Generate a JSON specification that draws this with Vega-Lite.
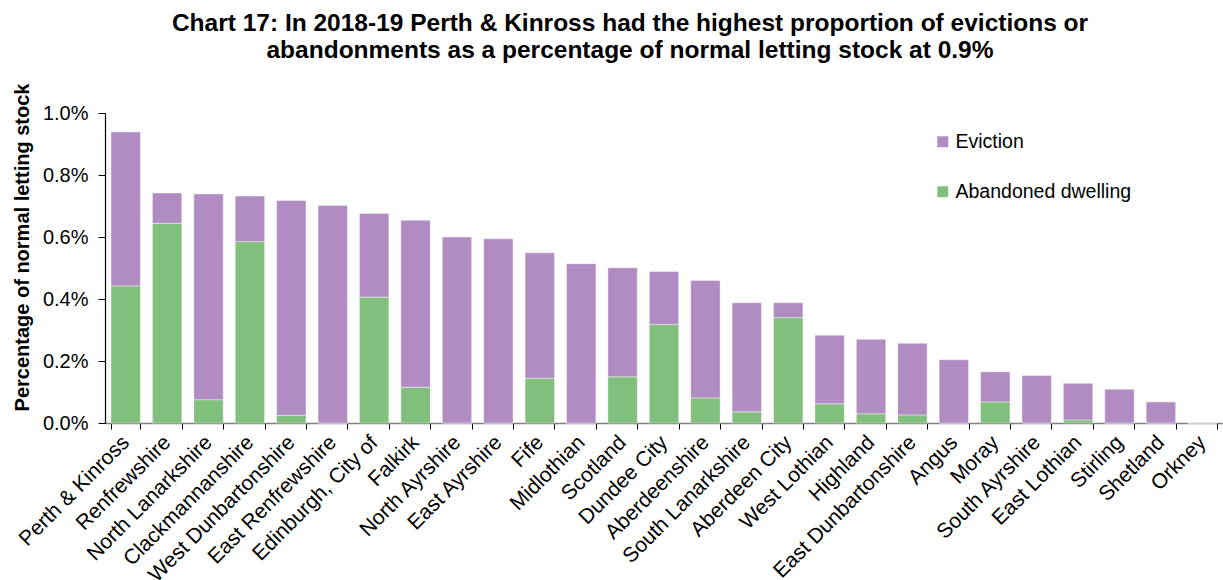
{
  "$schema": "https://vega.github.io/schema/vega-lite/v6.json",
  "autosize": {"type": "none"},
  "width": 1118,
  "height": 310,
  "padding": {"left": 105, "top": 113, "right": 0, "bottom": 157},
  "background": "white",
  "config": {
    "font": "Liberation Sans",
    "view": {"stroke": null}
  },
  "title": {
    "text": ["Chart 17: In 2018-19 Perth & Kinross had the highest proportion of evictions or", "abandonments as a percentage of normal letting stock at 0.9%"],
    "anchor": "middle",
    "frame": "group",
    "dx": -34,
    "font": "Liberation Sans",
    "fontSize": 24.5,
    "fontWeight": "bold",
    "color": "#000000",
    "lineHeight": 27,
    "offset": 20
  },
  "data": {
    "values": [
      {"area": "Perth & Kinross", "type": "Abandoned dwelling", "value": 0.00442},
      {"area": "Perth & Kinross", "type": "Eviction", "value": 0.00497},
      {"area": "Renfrewshire", "type": "Abandoned dwelling", "value": 0.00644},
      {"area": "Renfrewshire", "type": "Eviction", "value": 0.00098},
      {"area": "North Lanarkshire", "type": "Abandoned dwelling", "value": 0.00075},
      {"area": "North Lanarkshire", "type": "Eviction", "value": 0.00664},
      {"area": "Clackmannanshire", "type": "Abandoned dwelling", "value": 0.00585},
      {"area": "Clackmannanshire", "type": "Eviction", "value": 0.00147},
      {"area": "West Dunbartonshire", "type": "Abandoned dwelling", "value": 0.00025},
      {"area": "West Dunbartonshire", "type": "Eviction", "value": 0.00693},
      {"area": "East Renfrewshire", "type": "Abandoned dwelling", "value": 0.0},
      {"area": "East Renfrewshire", "type": "Eviction", "value": 0.00702},
      {"area": "Edinburgh, City of", "type": "Abandoned dwelling", "value": 0.00406},
      {"area": "Edinburgh, City of", "type": "Eviction", "value": 0.0027},
      {"area": "Falkirk", "type": "Abandoned dwelling", "value": 0.00115},
      {"area": "Falkirk", "type": "Eviction", "value": 0.00539},
      {"area": "North Ayrshire", "type": "Abandoned dwelling", "value": 0.0},
      {"area": "North Ayrshire", "type": "Eviction", "value": 0.006},
      {"area": "East Ayrshire", "type": "Abandoned dwelling", "value": 0.0},
      {"area": "East Ayrshire", "type": "Eviction", "value": 0.00594},
      {"area": "Fife", "type": "Abandoned dwelling", "value": 0.00144},
      {"area": "Fife", "type": "Eviction", "value": 0.00405},
      {"area": "Midlothian", "type": "Abandoned dwelling", "value": 0.0},
      {"area": "Midlothian", "type": "Eviction", "value": 0.00514},
      {"area": "Scotland", "type": "Abandoned dwelling", "value": 0.00149},
      {"area": "Scotland", "type": "Eviction", "value": 0.00352},
      {"area": "Dundee City", "type": "Abandoned dwelling", "value": 0.00318},
      {"area": "Dundee City", "type": "Eviction", "value": 0.00171},
      {"area": "Aberdeenshire", "type": "Abandoned dwelling", "value": 0.00081},
      {"area": "Aberdeenshire", "type": "Eviction", "value": 0.00379},
      {"area": "South Lanarkshire", "type": "Abandoned dwelling", "value": 0.00036},
      {"area": "South Lanarkshire", "type": "Eviction", "value": 0.00352},
      {"area": "Aberdeen City", "type": "Abandoned dwelling", "value": 0.0034},
      {"area": "Aberdeen City", "type": "Eviction", "value": 0.00048},
      {"area": "West Lothian", "type": "Abandoned dwelling", "value": 0.00062},
      {"area": "West Lothian", "type": "Eviction", "value": 0.00221},
      {"area": "Highland", "type": "Abandoned dwelling", "value": 0.0003},
      {"area": "Highland", "type": "Eviction", "value": 0.0024},
      {"area": "East Dunbartonshire", "type": "Abandoned dwelling", "value": 0.00026},
      {"area": "East Dunbartonshire", "type": "Eviction", "value": 0.00231},
      {"area": "Angus", "type": "Abandoned dwelling", "value": 0.0},
      {"area": "Angus", "type": "Eviction", "value": 0.00204},
      {"area": "Moray", "type": "Abandoned dwelling", "value": 0.00068},
      {"area": "Moray", "type": "Eviction", "value": 0.00097},
      {"area": "South Ayrshire", "type": "Abandoned dwelling", "value": 0.0},
      {"area": "South Ayrshire", "type": "Eviction", "value": 0.00153},
      {"area": "East Lothian", "type": "Abandoned dwelling", "value": 0.0001},
      {"area": "East Lothian", "type": "Eviction", "value": 0.00118},
      {"area": "Stirling", "type": "Abandoned dwelling", "value": 0.0},
      {"area": "Stirling", "type": "Eviction", "value": 0.00109},
      {"area": "Shetland", "type": "Abandoned dwelling", "value": 0.0},
      {"area": "Shetland", "type": "Eviction", "value": 0.00068},
      {"area": "Orkney", "type": "Abandoned dwelling", "value": 0.0},
      {"area": "Orkney", "type": "Eviction", "value": 0.0}
    ]
  },
  "mark": {"type": "bar", "stroke": "#ffffff", "strokeWidth": 0.6, "strokeOpacity": 0.7},
  "encoding": {
    "x": {
      "field": "area",
      "type": "nominal",
      "sort": null,
      "scale": {"paddingInner": 0.29, "paddingOuter": 0.145},
      "axis": {
        "title": null,
        "labelAngle": -45,
        "labelAlign": "right",
        "labelBaseline": "middle",
        "labelFont": "Liberation Sans",
        "labelFontSize": 21,
        "labelColor": "#000000",
        "labelPadding": 10,
        "labelDx": 2,
        "labelOverlap": false,
        "labelLimit": 0,
        "domainColor": "#808080",
        "domainWidth": 1.5,
        "tickColor": "#000000",
        "tickSize": 6,
        "tickBand": "extent"
      }
    },
    "y": {
      "field": "value",
      "type": "quantitative",
      "stack": "zero",
      "scale": {"domain": [0, 0.01], "nice": false},
      "axis": {
        "title": "Percentage of normal letting stock",
        "titleFont": "Liberation Sans",
        "titleFontSize": 20,
        "titleFontWeight": "bold",
        "titleColor": "#000000",
        "titleAngle": -90,
        "titleAlign": "center",
        "titleBaseline": "middle",
        "titleX": -83,
        "titleY": 134,
        "format": ".1%",
        "values": [0, 0.002, 0.004, 0.006, 0.008, 0.01],
        "labelFont": "Liberation Sans",
        "labelFontSize": 20,
        "labelColor": "#000000",
        "labelPadding": 10,
        "grid": false,
        "domainColor": "#000000",
        "domainWidth": 1.2,
        "tickColor": "#000000",
        "tickSize": 7
      }
    },
    "color": {
      "field": "type",
      "type": "nominal",
      "scale": {"domain": ["Eviction", "Abandoned dwelling"], "range": ["#B18CC3", "#80BF7C"]},
      "legend": {
        "title": null,
        "orient": "none",
        "legendX": 828,
        "legendY": 19,
        "symbolType": "square",
        "symbolSize": 120,
        "symbolStrokeWidth": 0,
        "labelFont": "Liberation Sans",
        "labelFontSize": 19.5,
        "labelColor": "#000000",
        "labelOffset": 3,
        "labelLimit": 0,
        "rowPadding": 29
      }
    },
    "order": {"field": "type", "sort": "ascending"}
  }
}
